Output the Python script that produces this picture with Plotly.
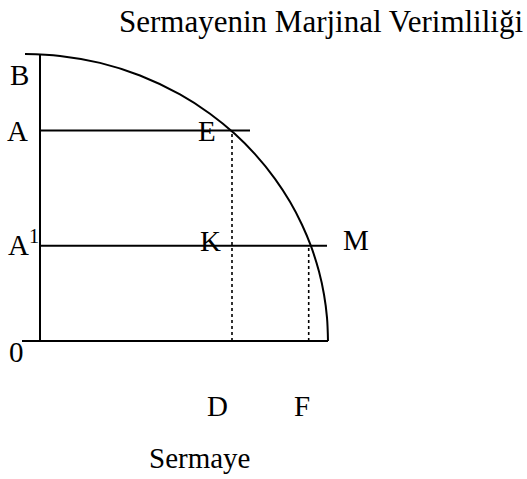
import plotly.graph_objects as go

# Marginal productivity of capital curve
curve_x = [-15, 20, 60, 100, 140, 170, 195, 215, 235, 250, 262, 271, 279, 284, 287, 288]
curve_y = [287, 285.1, 278.1, 265.5, 246.6, 227.3, 206.9, 186.8, 162.2, 139.2, 116.3, 94.8, 69.4, 46.5, 23.3, 0]

# Axes extents
y_axis_top = 287
x_axis_left = -18
x_axis_right = 288

# Levels
level_A = 210.5
level_A1 = 95.3
A_line_end = 210
A1_line_end = 287
D_x = 192
F_x = 268.7

title_text = "Sermayenin Marjinal Verimliliği"
x_title = "Sermaye"

FONT = "Liberation Serif, Times New Roman, serif"
BLACK = "#000000"

fig = go.Figure()

def seg(xs, ys, dash="solid", width=2):
    fig.add_trace(go.Scatter(x=xs, y=ys, mode="lines",
                             line=dict(color=BLACK, width=width, dash=dash),
                             hoverinfo="skip", showlegend=False))

# curve
fig.add_trace(go.Scatter(x=curve_x, y=curve_y, mode="lines",
                         line=dict(color=BLACK, width=2, shape="spline", smoothing=1.0),
                         hoverinfo="skip", showlegend=False))
# axes
seg([0, 0], [0, y_axis_top])
seg([x_axis_left, x_axis_right], [0, 0])
# horizontal levels
seg([0, A_line_end], [level_A, level_A])
seg([0, A1_line_end], [level_A1, level_A1])
# dotted drops
seg([D_x, D_x], [0, level_A], dash="dot", width=1.6)
seg([F_x, F_x], [0, level_A1], dash="dot", width=1.6)

labels = [
    ("B", -21, 266),
    ("A", -23, 210),
    ("A<sup>1</sup>", -17, 98),
    ("0", -24, -11),
    ("E", 167, 210),
    ("K", 170, 100),
    ("M", 316, 101),
    ("D", 177, -65),
    ("F", 262, -65),
]
annotations = []
for t, x, y in labels:
    annotations.append(dict(text=t, x=x, y=y, xref="x", yref="y", showarrow=False,
                            font=dict(family=FONT, size=29, color=BLACK),
                            xanchor="center", yanchor="middle"))
annotations.append(dict(text=x_title, x=159, y=-117, xref="x", yref="y", showarrow=False,
                        font=dict(family=FONT, size=29, color=BLACK),
                        xanchor="center", yanchor="middle"))
annotations.append(dict(text=title_text, x=281, y=320, xref="x", yref="y", showarrow=False,
                        font=dict(family=FONT, size=31, color=BLACK),
                        xanchor="center", yanchor="middle"))

fig.update_layout(
    width=527, height=479,
    margin=dict(l=0, r=0, t=0, b=0),
    paper_bgcolor="white", plot_bgcolor="white",
    xaxis=dict(range=[-40, 487], visible=False, fixedrange=True),
    yaxis=dict(range=[-138, 341], visible=False, fixedrange=True),
    annotations=annotations,
    showlegend=False,
)

# remove the default page margin so the figure fills the window exactly
fig.write_html(
    "out.html",
    config={"displayModeBar": False, "staticPlot": True},
    post_script="document.body.style.margin='0';document.body.style.overflow='hidden';",
)
